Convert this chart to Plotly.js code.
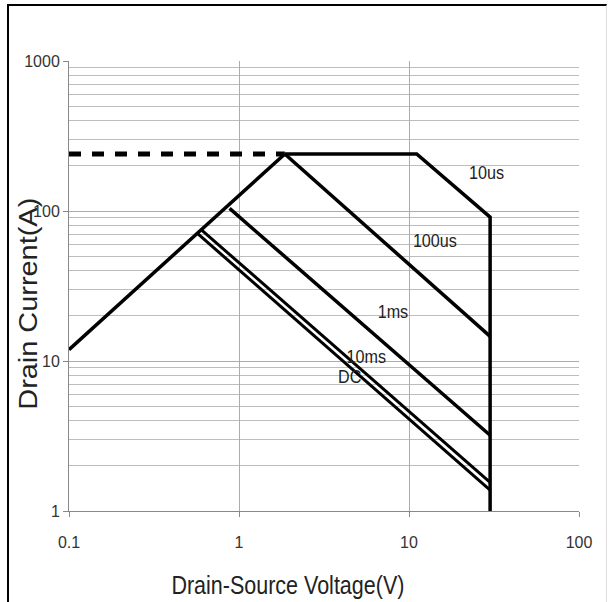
<!DOCTYPE html>
<html>
<head>
<meta charset="utf-8">
<script src="https://cdn.plot.ly/plotly-3.0.1.min.js"></script>
<style>
html,body{margin:0;padding:0;background:#fff;}
#wrap{position:relative;width:612px;height:602px;}
#chart{position:absolute;left:0;top:0;width:612px;height:602px;}
#frame{position:absolute;left:7px;top:4px;width:597px;height:600px;border-left:2px solid #000;border-top:2px solid #000;border-right:1px solid #ddd;pointer-events:none;}
</style>
</head>
<body>
<div id="wrap"><div id="chart"></div><div id="frame"></div></div>
<script>
// SOA limit lines (V in volts, I in amps)
const dashV = [0.1, 1.86];
const dashI = [240, 240];
const rdsV = [0.1, 1.86];
const rdsI = [11.9, 240];
const us10V = [1.86, 11.1, 30, 30];
const us10I = [240, 240, 91, 1];
const us100V = [1.86, 30];
const us100I = [240, 14.6];
const ms1V = [0.88, 30];
const ms1I = [104, 3.2];
const ms10V = [0.601, 30];
const ms10I = [74.9, 1.55];
const dcV = [0.569, 30];
const dcI = [70.9, 1.38];

const labelText = ['10us', '100us', '1ms', '10ms', 'DC'];
const labelV = [28.6, 14.2, 8.0, 5.56, 4.48];
const labelI = [181, 63.8, 21.4, 10.7, 7.9];

const xTicks = [0.1, 1, 10, 100];
const xTickText = ['0.1', '1', '10', '100'];
const yTicks = [1, 10, 100, 1000];
const yTickText = ['1', '10', '100', '1000'];
const yMinor = [2,3,4,5,6,7,8,9,20,30,40,50,60,70,80,90,200,300,400,500,600,700,800,900];

const xTitle = 'Drain-Source Voltage(V)';
const yTitle = 'Drain Current(A)';

const FONT = 'Liberation Sans, Arial, sans-serif';
const lw = 3.5;
function ln(x, y, extra) {
  return Object.assign({x: x, y: y, mode: 'lines', type: 'scatter', hoverinfo: 'skip',
    line: {color: '#000', width: lw}}, extra || {});
}
const traces = [
  ln(dashV, dashI, {line: {color: '#000', width: 5, dash: '12px,11px'}}),
  ln(rdsV, rdsI),
  ln(us10V, us10I),
  ln(us100V, us100I),
  ln(ms1V, ms1I),
  ln(ms10V, ms10I, {line: {color: '#000', width: 3}}),
  ln(dcV, dcI, {line: {color: '#000', width: 3}})
];

const annotations = labelText.map((t, i) => ({
  x: Math.log10(labelV[i]), y: Math.log10(labelI[i]), xref: 'x', yref: 'y',
  text: t, showarrow: false, font: {family: FONT, size: 19, color: '#222'}
}));
annotations.push({
  x: 0.4294, y: -0.1644, xref: 'paper', yref: 'paper', xanchor: 'center', yanchor: 'middle',
  text: xTitle, showarrow: false,
  font: {family: FONT, size: 26, color: '#222'}
});
annotations.push({
  x: -0.0804, y: 0.462, xref: 'paper', yref: 'paper', xanchor: 'center', yanchor: 'middle',
  text: yTitle, showarrow: false,
  textangle: -90, font: {family: FONT, size: 26, color: '#222'}
});

const layout = {
  width: 612, height: 602,
  margin: {l: 69, r: 33, t: 61, b: 91},
  paper_bgcolor: '#fff', plot_bgcolor: '#fff',
  showlegend: false,
  xaxis: {
    type: 'log', range: [-1, 2],
    tickmode: 'array', tickvals: xTicks, ticktext: xTickText,
    ticks: 'outside', ticklen: 5, tickcolor: '#888', ticklabelstandoff: 12,
    showgrid: true, gridcolor: '#acacac', gridwidth: 1,
    showline: true, linecolor: '#888', linewidth: 1, zeroline: false,
    tickfont: {family: FONT, size: 16, color: '#333'}
  },
  yaxis: {
    type: 'log', range: [0, 3],
    tickmode: 'array', tickvals: yTicks, ticktext: yTickText,
    ticks: 'outside', ticklen: 5, tickcolor: '#888',
    showgrid: true, gridcolor: '#acacac', gridwidth: 1,
    showline: true, linecolor: '#888', linewidth: 1, zeroline: false,
    tickfont: {family: FONT, size: 16, color: '#333'},
    minor: {tickmode: 'array', tickvals: yMinor, showgrid: true, gridcolor: '#bdbdbd', gridwidth: 1, ticks: ''}
  },
  annotations: annotations
};

Plotly.newPlot('chart', traces, layout, {displayModeBar: false, staticPlot: true}).then(() => {
  // condense text horizontally like the reference's narrow face
  document.querySelectorAll('#chart .annotation-text').forEach(el => {
    const txt = el.textContent;
    const w = el.getComputedTextLength();
    let f = 0.85;
    if (txt === xTitle) f = 233 / w;
    else if (txt === yTitle) f = 212 / w;
    el.setAttribute('textLength', (w * f).toFixed(1));
    el.setAttribute('lengthAdjust', 'spacingAndGlyphs');
  });
});
</script>
</body>
</html>
